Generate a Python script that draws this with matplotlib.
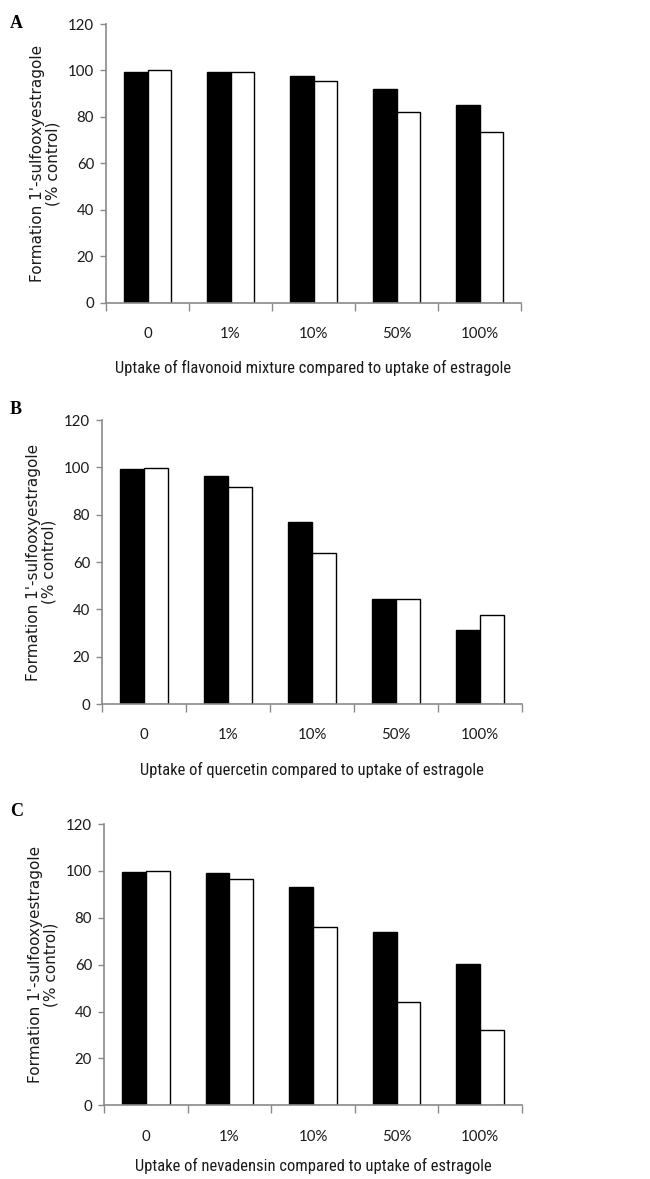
import matplotlib
matplotlib.use("Agg")
import matplotlib.pyplot as plt
from matplotlib import font_manager
import numpy as np

categories = ["0", "1%", "10%", "50%", "100%"]
panel_letters = ["A", "B", "C"]
xlabels = [
    "Uptake of flavonoid mixture compared to uptake of estragole",
    "Uptake of quercetin compared to uptake of estragole",
    "Uptake of nevadensin compared to uptake of estragole",
]
black_A = [99.5, 99.5, 97.8, 91.9, 85.3]
white_A = [100.0, 99.5, 95.3, 82.2, 73.3]
black_B = [99.4, 96.3, 76.9, 44.2, 31.4]
white_B = [99.9, 91.7, 63.8, 44.2, 37.6]
black_C = [99.7, 99.0, 93.0, 74.1, 60.4]
white_C = [100.0, 96.5, 75.9, 43.9, 32.1]
yticks = [0, 20, 40, 60, 80, 100, 120]
ylabel = "Formation 1'-sulfooxyestragole\n(% control)"

names = {f.name for f in font_manager.fontManager.ttflist}
narrow = None
for cand in ["Liberation Sans Narrow", "Roboto Condensed", "DejaVu Sans Condensed", "Open Sans Condensed"]:
    if cand in names:
        narrow = cand
        break

W, H = 650, 1179
fig = plt.figure(figsize=(W / 100, H / 100), dpi=100)

boxes = [(106, 521, 24, 302.7), (102, 522, 420, 704), (104, 522, 824, 1105.3)]
letter_y = [24, 410, 812]
label_pads = [14, 14, 10]
data = [(black_A, white_A), (black_B, white_B), (black_C, white_C)]
axis_col = "#8a8a8a"
txt_col = "#1a1a1a"
tick_font = "Lato"

for i, ((l, r, t, b), (blk, wht)) in enumerate(zip(boxes, data)):
    ax = fig.add_axes([l / W, 1 - b / H, (r - l) / W, (b - t) / H])
    x = np.arange(len(categories))
    bw = 0.285
    ax.bar(x - bw / 2, blk, width=bw, color="black", edgecolor="black", linewidth=1.0)
    ax.bar(x + bw / 2, wht, width=bw, color="white", edgecolor="black", linewidth=1.0)
    ax.set_xlim(-0.5, len(categories) - 0.5)
    ax.set_ylim(0, 120)
    ax.spines["top"].set_visible(False)
    ax.spines["right"].set_visible(False)
    for s in ("left", "bottom"):
        ax.spines[s].set_color(axis_col)
        ax.spines[s].set_linewidth(1.2)
    ax.set_yticks(yticks)
    ax.set_yticklabels([str(v) for v in yticks], fontsize=10.8, family=tick_font, color=txt_col)
    ax.tick_params(axis="y", direction="out", length=4, width=1.0, color=axis_col, pad=4.5)
    ax.set_xticks(np.arange(len(categories) + 1) - 0.5)
    ax.set_xticklabels([])
    ax.tick_params(axis="x", which="major", direction="out", length=6, width=1.0, color=axis_col)
    ax.set_xticks(x, minor=True)
    ax.set_xticklabels(categories, minor=True, fontsize=10.8, family=tick_font, color=txt_col)
    ax.tick_params(axis="x", which="minor", length=0, pad=17.5)
    if narrow:
        ax.set_xlabel(xlabels[i], fontsize=11.9, family=narrow, color=txt_col, labelpad=label_pads[i])
    else:
        ax.set_xlabel(xlabels[i], fontsize=11, family=tick_font, color=txt_col, labelpad=label_pads[i])
    ax.set_ylabel(ylabel, fontsize=11, family="DejaVu Sans", color=txt_col,
                  linespacing=1.1, labelpad=5)
    fig.text(10 / W, 1 - letter_y[i] / H, panel_letters[i], fontsize=13, fontweight="bold",
             family="Liberation Serif", ha="left", va="center")

fig.savefig("out.png", dpi=100)
